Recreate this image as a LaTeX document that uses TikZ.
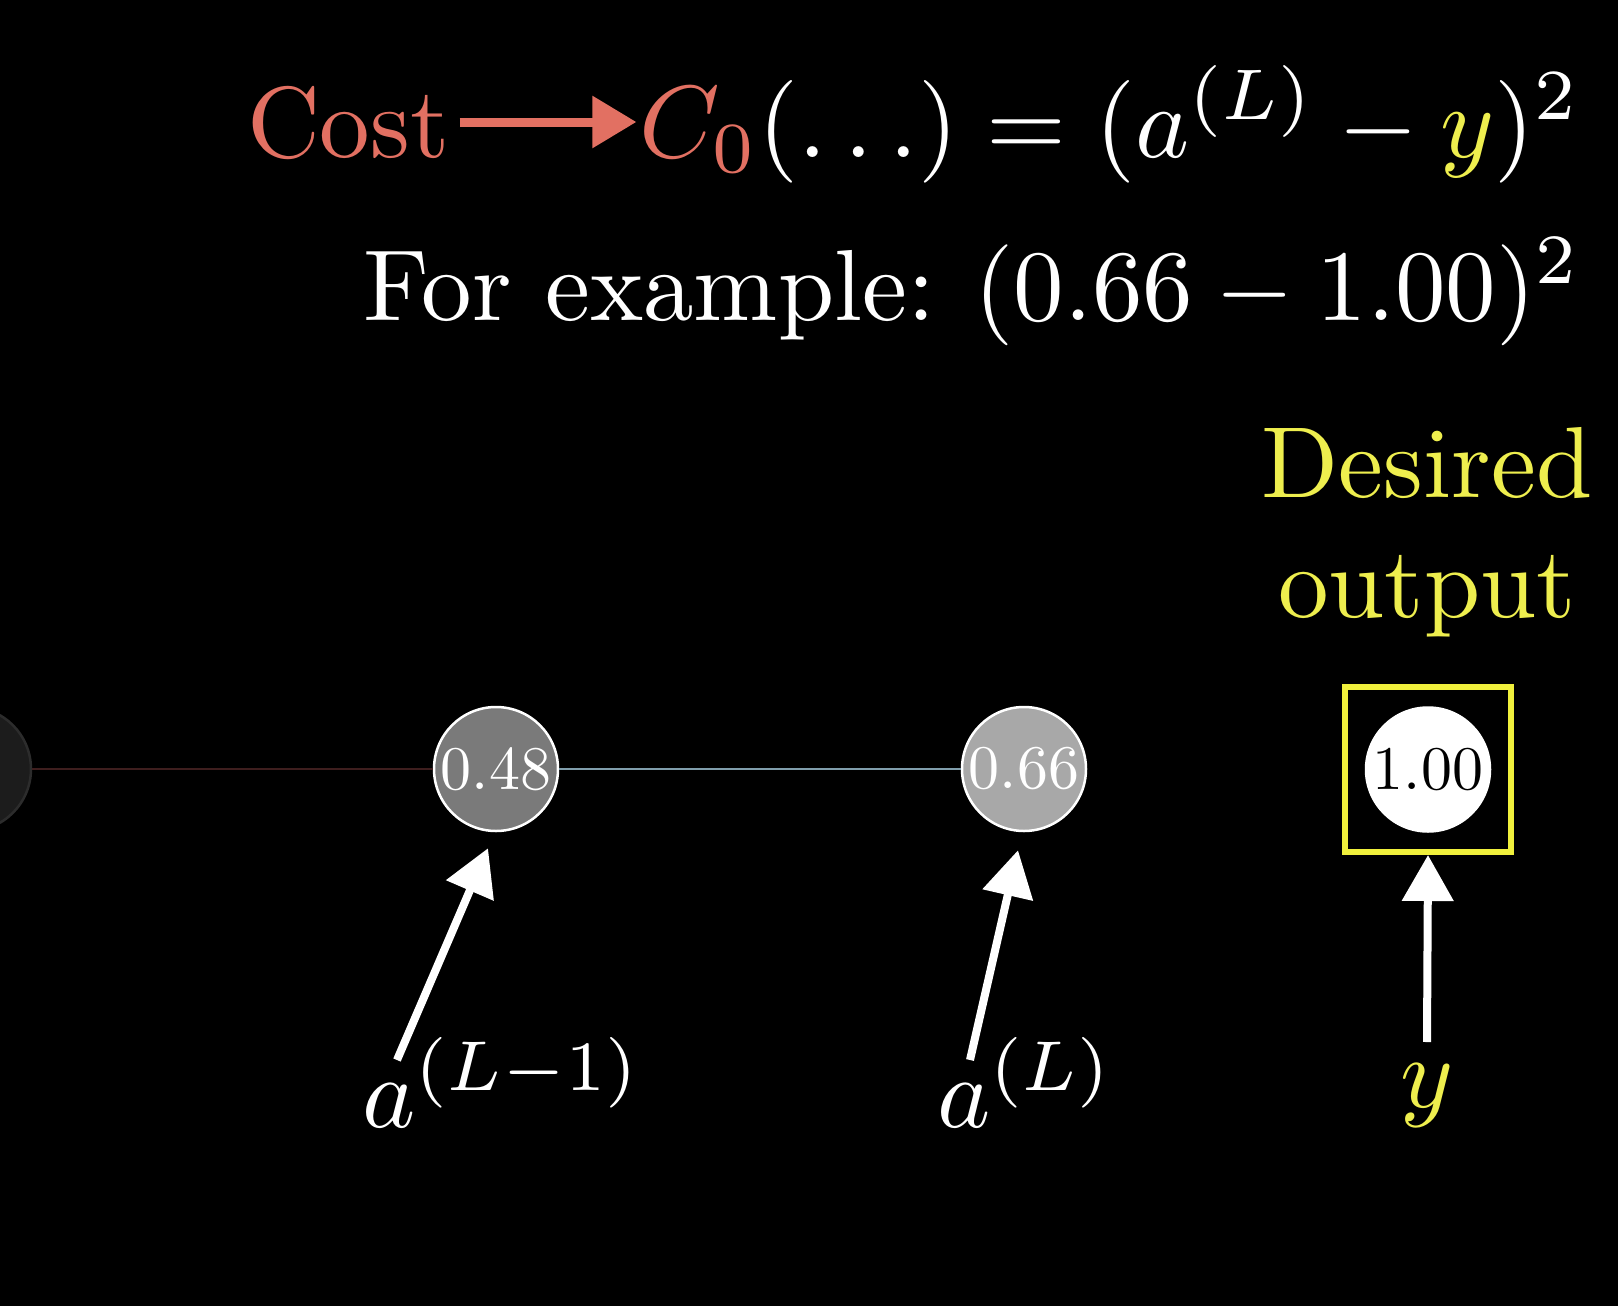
\RequirePackage{fix-cm}
\documentclass[tikz,border=0pt]{standalone}
\usepackage{graphicx}
\usetikzlibrary{arrows.meta,calc}
\definecolor{costred}{RGB}{226,112,98}
\definecolor{yel}{RGB}{238,238,78}
\definecolor{boxyel}{RGB}{240,240,60}
\definecolor{leftline}{RGB}{62,30,30}
\definecolor{midline}{RGB}{128,158,172}
\definecolor{gdark}{RGB}{28,28,28}
\definecolor{gdarkline}{RGB}{44,44,44}
\definecolor{gmid}{RGB}{122,122,122}
\definecolor{glight}{RGB}{168,168,168}
\newcommand\BigTxt[1]{\scalebox{10.1}{\fontsize{10}{12}\selectfont #1}}
\newcommand\EqTxt[1]{\scalebox{10.27}{\fontsize{10}{12}\selectfont #1}}
\newcommand\NodeTxt[1]{\scalebox{6.2}{\fontsize{10}{12}\selectfont #1}}
\begin{document}
\begin{tikzpicture}[x=1pt,y=-1pt,
  txt/.style={inner sep=0pt, outer sep=0pt, text=white},
  neuron/.style={circle, minimum size=124pt, inner sep=0pt, draw=white, line width=2.5pt},
  pointer/.style={draw=white, line width=8pt, -{Triangle[length=46pt,width=50pt]}},
  link/.style={line width=2.5pt}]
\fill[black] (0,0) rectangle (1618,1306);
\useasboundingbox (0,0) rectangle (1618,1306);

% neurons
\node[neuron, fill=gdark, draw=gdarkline] (n0) at (-31,769) {};
\node[neuron, fill=gmid, text=white] (n1) at (496,769) {\NodeTxt{0.48}};
\node[neuron, fill=glight, text=white] (n2) at (1024,769) {\NodeTxt{0.66}};
\node[draw=boxyel, line width=6pt, minimum width=166pt, minimum height=165pt, inner sep=0pt] (box) at (1428,769.5) {};
\node[neuron, fill=white, text=black] (n3) at (1428,769.5) {\NodeTxt{1.00}};

\draw[link, leftline] (n0) -- (n1);
\draw[link, midline] (n1) -- (n2);

% top formula
\node[txt, text=costred, anchor=base west] (cost) at (247,157) {\BigTxt{Cost}};
\node[txt, anchor=base east] (eq) at (1581,157) {\EqTxt{${\color{costred}C_0}(\ldots) = (a^{(L)} - {\color{yel}y})^2$}};
\draw[draw=costred, line width=9pt, -{Triangle[length=44pt,width=50pt]}] ([shift={(10,-35)}]cost.base east) -- ([shift={(-3,-35)}]eq.base west);

\node[txt, anchor=base east] (ex) at (1581,320) {\BigTxt{For example:\hspace{0.39em}$(0.66 - 1.00)^2$}};

% desired output
\node[txt, text=yel, anchor=base] (des) at (1427,497) {\BigTxt{Desired}};
\node[txt, text=yel, anchor=base] (out) at (1427,617) {\BigTxt{output}};

% labels
\node[txt, anchor=base west] (lab1) at (362,1127) {\BigTxt{$a^{(L-1)}$}};
\node[txt, anchor=base west] (lab2) at (937,1127) {\BigTxt{$a^{(L)}$}};
\node[txt, text=yel, anchor=base] (lab3) at (1427,1107) {\BigTxt{$y$}};

\coordinate (t1) at (397,1060);
\coordinate (t2) at (970,1060);
\coordinate (t3) at (1427,1042);
\draw[pointer] (t1) -- ([shift={(-8,16)}]n1.south);
\draw[pointer] (t2) -- ([shift={(-6,18)}]n2.south);
\draw[pointer] (t3) -- (box.south);
\end{tikzpicture}
\end{document}
